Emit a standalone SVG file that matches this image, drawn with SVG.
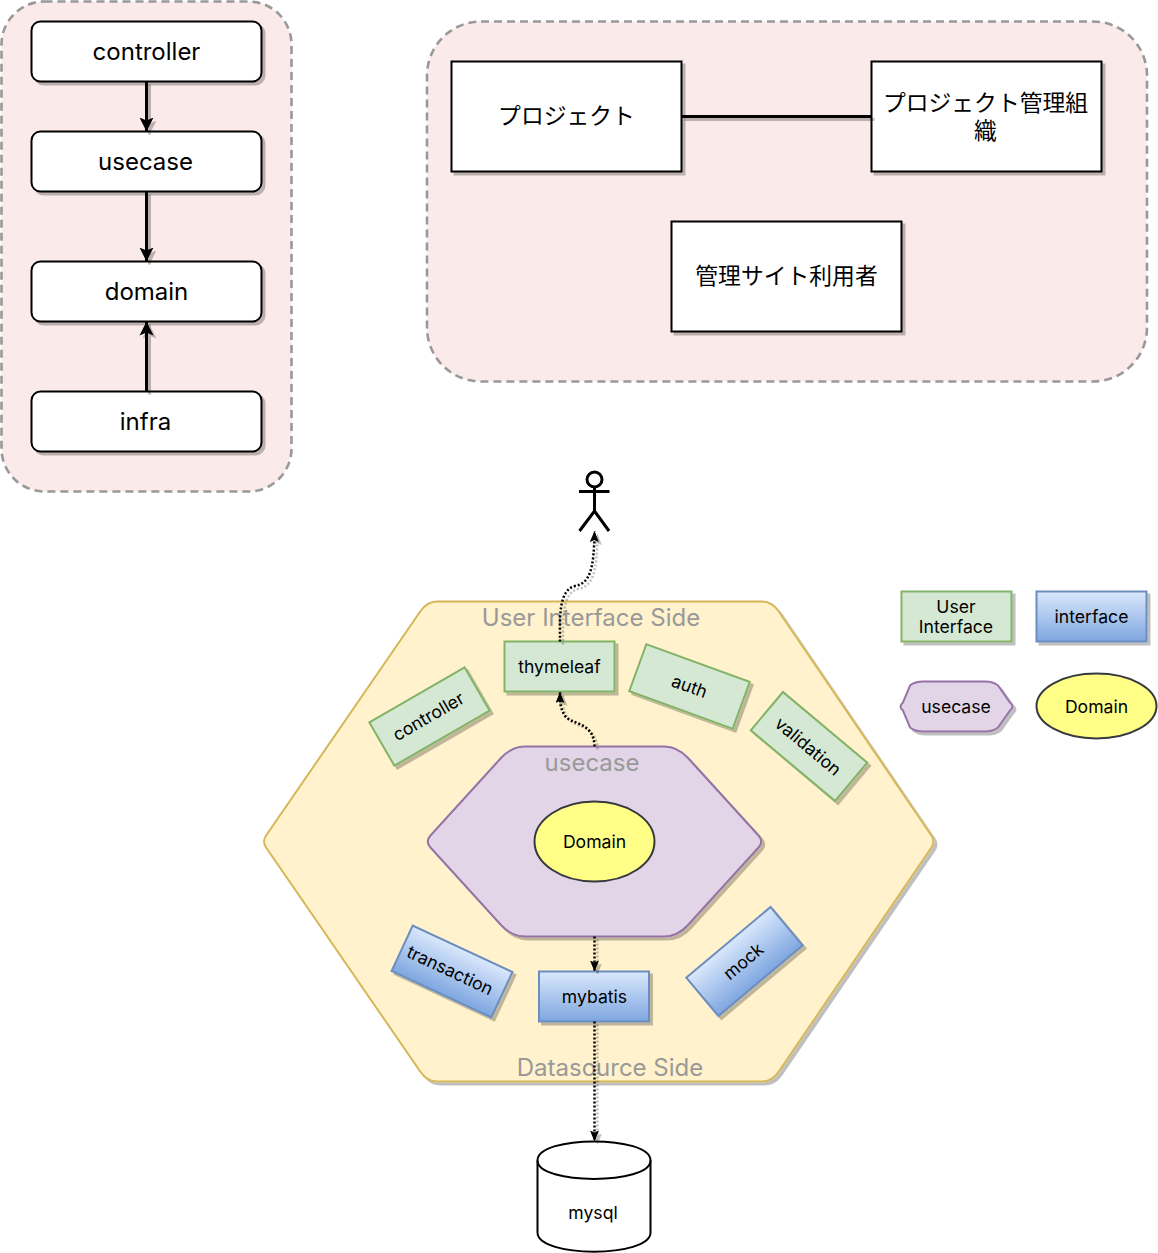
<svg xmlns="http://www.w3.org/2000/svg" width="1158" height="1253" viewBox="0 0 1158 1253">
<style>
text{font-family:"Inter","Liberation Sans","Noto Sans CJK JP",sans-serif;fill:#000;text-anchor:middle}
.lg{font-size:24px}
.jp{font-size:22.8px;font-family:"Noto Sans CJK JP",sans-serif}
.sm{font-size:17.6px}
.lab{font-size:24px;fill:#999}
.box{fill:#fff;stroke:#000;stroke-width:2}
.group{fill:#fbeaea;stroke:#999;stroke-width:2.6;stroke-dasharray:8 5}
.green{fill:#d5e8d4;stroke:#82b366;stroke-width:2}
.blue{fill:url(#bl);stroke:#6c8ebf;stroke-width:2}
.purple{fill:#e1d5e7;stroke:#9673a6;stroke-width:2}
.yellow{fill:#ffff88;stroke:#36393d;stroke-width:2}
.solid{fill:none;stroke:#000;stroke-width:3}
.dot{fill:none;stroke:#000;stroke-width:2.5;stroke-dasharray:2 2}
</style>
<defs>
<linearGradient id="bl" x1="0" y1="0" x2="0" y2="1"><stop offset="0" stop-color="#dae8fc"/><stop offset="1" stop-color="#7ea6e0"/></linearGradient>
<filter id="sh" filterUnits="userSpaceOnUse" x="0" y="0" width="1158" height="1253"><feDropShadow dx="3" dy="3" stdDeviation="0.3" flood-color="#000" flood-opacity="0.25"/></filter>
<marker id="big" markerUnits="userSpaceOnUse" markerWidth="17" markerHeight="17" refX="14" refY="7.500" orient="auto"><path d="M0 0.500L14 7.500L0 14.500L3 7.500Z" fill="#000"/></marker>
<marker id="small" markerUnits="userSpaceOnUse" markerWidth="12" markerHeight="10" refX="11" refY="4.500" orient="auto"><path d="M0 0L11 4.500L0 9L2 4.500Z" fill="#000"/></marker>
</defs>

<g id="layer-group"><rect class="group" x="1.500" y="1.500" width="290" height="490" rx="43"/></g>
<g id="domain-group"><rect class="group" x="427" y="21.500" width="720" height="360" rx="54"/></g>

<g id="n-controller"><rect class="box" filter="url(#sh)" x="31.500" y="21.500" width="230" height="60" rx="9"/><text class="lg" x="146.500" y="60">controller</text></g>
<g id="n-usecase"><rect class="box" filter="url(#sh)" x="31.500" y="131.500" width="230" height="60" rx="9"/><text class="lg" x="145.500" y="170">usecase</text></g>
<g id="n-domain"><rect class="box" filter="url(#sh)" x="31.500" y="261.500" width="230" height="60" rx="9"/><text class="lg" x="146.500" y="300">domain</text></g>
<g id="n-infra"><rect class="box" filter="url(#sh)" x="31.500" y="391.500" width="230" height="60" rx="9"/><text class="lg" x="145.500" y="430">infra</text></g>

<g id="n-project"><rect class="box" filter="url(#sh)" x="451.500" y="61.500" width="230" height="110"/><text class="jp" x="566.500" y="124">プロジェクト</text></g>
<g id="n-org"><rect class="box" filter="url(#sh)" x="871.500" y="61.500" width="230" height="110"/><text class="jp"><tspan x="985.500" y="110.500">プロジェクト管理組</tspan><tspan x="985.500" y="138.500">織</tspan></text></g>
<g id="n-admin"><rect class="box" filter="url(#sh)" x="671.500" y="221.500" width="230" height="110"/><text class="jp" x="786.500" y="284">管理サイト利用者</text></g>

<g id="n-actor" fill="none" stroke="#000" stroke-width="3"><circle cx="594.500" cy="479.500" r="7.500"/><path d="M594.500 487V511M579 491.500H609.500M579.500 531L594.500 511L609 531"/></g>

<g id="n-outer"><path filter="url(#sh)" d="M437 601.500H762Q772 601.500 778.800 611.500L931.400 835.500Q935.500 841.500 931.400 847.500L778.800 1071.500Q772 1081.500 762 1081.500H437Q427 1081.500 420.200 1071.500L266.100 847.500Q262 841.500 266.100 835.500L420.200 611.500Q427 601.500 437 601.500Z" fill="#fff2cc" stroke="#d6b656" stroke-width="2"/><text class="lab" x="591" y="626">User Interface Side</text><text class="lab" x="610" y="1076">Datasource Side</text></g>
<g id="n-inner"><path class="purple" filter="url(#sh)" d="M525 746.500H664Q677.500 746.500 688 758L758.500 835.500Q764 841.500 758.500 847.500L688 925Q677.500 936.500 664 936.500H525Q511.500 936.500 501 925L430.500 847.500Q425 841.500 430.500 835.500L501 758Q511.500 746.500 525 746.500Z"/><text class="lab" x="592" y="771">usecase</text></g>
<g id="n-core"><ellipse class="yellow" cx="594.500" cy="841.500" rx="60" ry="40"/><text class="sm" x="594.500" y="848">Domain</text></g>

<g id="n-thymeleaf"><rect class="green" filter="url(#sh)" x="504.500" y="641.500" width="110" height="50"/><text class="sm" x="559.500" y="673">thymeleaf</text></g>
<g id="n-ctrl2"><g filter="url(#sh)"><rect class="green" x="-55" y="-25" width="110" height="50" transform="translate(429.500 716.500) rotate(-30)"/></g><text class="sm" transform="translate(428.500 716.500) rotate(-30)" y="6">controller</text></g>
<g id="n-auth"><g filter="url(#sh)"><rect class="green" x="-55" y="-25" width="110" height="50" transform="translate(689.500 686.500) rotate(20)"/></g><text class="sm" transform="translate(689.500 686.500) rotate(20)" y="6">auth</text></g>
<g id="n-validation"><g filter="url(#sh)"><rect class="green" x="-55" y="-25" width="110" height="50" transform="translate(809 746.500) rotate(40)"/></g><text class="sm" transform="translate(808 746.500) rotate(40)" y="6">validation</text></g>
<g id="n-transaction"><g filter="url(#sh)"><rect class="blue" x="-55" y="-25" width="110" height="50" transform="translate(452 971.500) rotate(25)"/></g><text class="sm" transform="translate(450 970.500) rotate(25)" y="6">transaction</text></g>
<g id="n-mybatis"><rect class="blue" filter="url(#sh)" x="539" y="971.500" width="110" height="50"/><text class="sm" x="594.500" y="1003">mybatis</text></g>
<g id="n-mock"><g filter="url(#sh)"><rect class="blue" x="-55" y="-25" width="110" height="50" transform="translate(744.500 961.500) rotate(-40)"/></g><text class="sm" transform="translate(743.500 961.500) rotate(-40)" y="6">mock</text></g>

<g id="n-mysql"><path d="M537.500 1160.500C537.500 1135 650.500 1135 650.500 1160.500V1232.500C650.500 1258 537.500 1258 537.500 1232.500Z" fill="#fff" stroke="#000" stroke-width="2"/><path d="M537.500 1160.500C537.500 1185 650.500 1185 650.500 1160.500" fill="none" stroke="#000" stroke-width="2"/><text class="sm" x="593" y="1219">mysql</text></g>

<g id="l-ui"><rect class="green" filter="url(#sh)" x="901.500" y="591.500" width="110" height="50"/><text class="sm"><tspan x="956" y="613">User</tspan><tspan x="956" y="633">Interface</tspan></text></g>
<g id="l-interface"><rect class="blue" filter="url(#sh)" x="1036.500" y="591.500" width="110" height="50"/><text class="sm" x="1091.500" y="623">interface</text></g>
<g id="l-usecase"><path class="purple" filter="url(#sh)" d="M923 681.500H985Q993 681.500 998 685.500L1010 702.500Q1015 706.500 1010 710.500L998 727.500Q993 731.500 985 731.500H923Q915 731.500 910 727.500L903 710.500Q898 706.500 903 702.500L910 685.500Q915 681.500 923 681.500Z"/><text class="sm" x="956" y="713">usecase</text></g>
<g id="l-domain"><ellipse class="yellow" cx="1096.500" cy="706" rx="60" ry="32.500"/><text class="sm" x="1096.500" y="713">Domain</text></g>

<g id="connectors" filter="url(#sh)">
<path class="solid" marker-end="url(#big)" d="M146.500 81.500V131.500"/>
<path class="solid" marker-end="url(#big)" d="M146.500 191.500V261.500"/>
<path class="solid" marker-end="url(#big)" d="M146.500 391.500V321.500"/>
<path class="solid" d="M681.500 116.500H871.500"/>
<path class="dot" marker-end="url(#small)" d="M560 641.500C560 620 558 590 575 586C590 583 594 570 594.500 531"/>
<path class="dot" marker-end="url(#small)" d="M594.500 746.500C594 720 568 725 564 714C560 708 560 700 560 692"/>
<path class="dot" marker-end="url(#small)" d="M594.500 936.500V971.500"/>
<path class="dot" marker-end="url(#small)" d="M594.500 1021.500V1141.500"/>
</g>
</svg>
